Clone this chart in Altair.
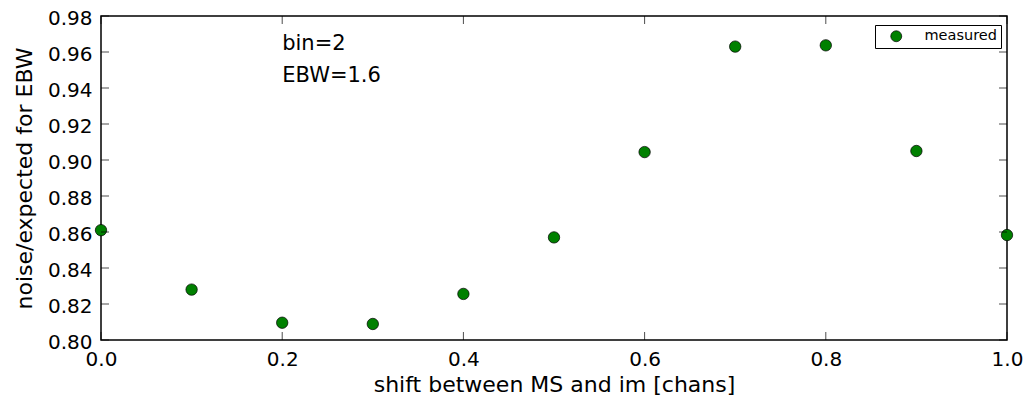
import altair as alt
import pandas as pd

shift = [0.0, 0.1, 0.2, 0.3, 0.4, 0.5, 0.6, 0.7, 0.8, 0.9, 1.0]
ratio = [0.861, 0.828, 0.8096, 0.8089, 0.8256, 0.857, 0.9044, 0.963, 0.9637, 0.905, 0.8583]
series = ["measured"] * len(shift)

x_ticks = [0.0, 0.2, 0.4, 0.6, 0.8, 1.0]
y_ticks = [0.80, 0.82, 0.84, 0.86, 0.88, 0.90, 0.92, 0.94, 0.96, 0.98]

note_text = ["bin=2", "EBW=1.6"]
note_x = [0.2, 0.2]
note_y = [0.961, 0.9433]

W, H = 906, 324
FONT = "DejaVu Sans"
TICK = 8

df = pd.DataFrame({"shift": shift, "ratio": ratio, "series": series})
xt = pd.DataFrame({"v": x_ticks})
yt = pd.DataFrame({"v": y_ticks})
notes = pd.DataFrame({"t": note_text, "x": note_x, "y": note_y})

xscale = alt.Scale(domain=[0.0, 1.0], nice=False, zero=False)
yscale = alt.Scale(domain=[0.80, 0.98], nice=False, zero=False)

xaxis = alt.Axis(values=x_ticks, format=".1f", title="shift between MS and im [chans]",
                 ticks=False, domain=False, grid=False, labelPadding=9,
                 labelFlush=False, labelOverlap=False, titlePadding=5)
yaxis = alt.Axis(values=y_ticks, format=".2f", title="noise/expected for EBW",
                 ticks=False, domain=False, grid=False, labelPadding=9, labelOffset=2,
                 labelFlush=False, labelOverlap=False, titlePadding=11)

points = alt.Chart(df).mark_point(
    filled=True, shape="circle", size=130, stroke="black", strokeWidth=0.7, opacity=1
).encode(
    x=alt.X("shift:Q", scale=xscale, axis=xaxis),
    y=alt.Y("ratio:Q", scale=yscale, axis=yaxis),
    color=alt.Color("series:N", scale=alt.Scale(domain=["measured"], range=["#008000"]),
                    legend=alt.Legend(title=None, orient="none", legendX=774, legendY=9,
                                      strokeColor="black", fillColor="white", padding=4,
                                      cornerRadius=0, symbolSize=120, symbolStrokeColor="black",
                                      symbolStrokeWidth=0.7, symbolType="circle",
                                      labelFontSize=14.5, labelFont=FONT, labelColor="black",
                                      symbolOffset=10, labelOffset=21)),
)

bottom_ticks = alt.Chart(xt).mark_tick(orient="vertical", color="black", size=TICK, thickness=1).encode(
    x=alt.X("v:Q", scale=xscale, axis=xaxis), y=alt.value(H - TICK / 2))
top_ticks = alt.Chart(xt).mark_tick(orient="vertical", color="black", size=TICK, thickness=1).encode(
    x=alt.X("v:Q", scale=xscale, axis=xaxis), y=alt.value(TICK / 2))
left_ticks = alt.Chart(yt).mark_tick(orient="horizontal", color="black", size=TICK, thickness=1).encode(
    y=alt.Y("v:Q", scale=yscale, axis=yaxis), x=alt.value(TICK / 2))
right_ticks = alt.Chart(yt).mark_tick(orient="horizontal", color="black", size=TICK, thickness=1).encode(
    y=alt.Y("v:Q", scale=yscale, axis=yaxis), x=alt.value(W - TICK / 2))

text = alt.Chart(notes).mark_text(align="left", baseline="alphabetic", fontSize=21, font=FONT,
                                  color="black").encode(
    x=alt.X("x:Q", scale=xscale, axis=xaxis), y=alt.Y("y:Q", scale=yscale, axis=yaxis), text="t:N")

chart = alt.layer(points, bottom_ticks, top_ticks, left_ticks, right_ticks, text).properties(
    width=W, height=H,
    autosize=alt.AutoSizeParams(type="none"),
    padding={"left": 93, "top": 8, "right": 19, "bottom": 57},
).configure_view(
    stroke="black", strokeWidth=1.5
).configure_axis(
    labelFont=FONT, titleFont=FONT, labelFontSize=20, titleFontSize=22,
    labelColor="black", titleColor="black", titleFontWeight="normal"
)

chart.save("out.html", embed_options={"renderer": "svg", "actions": False})
